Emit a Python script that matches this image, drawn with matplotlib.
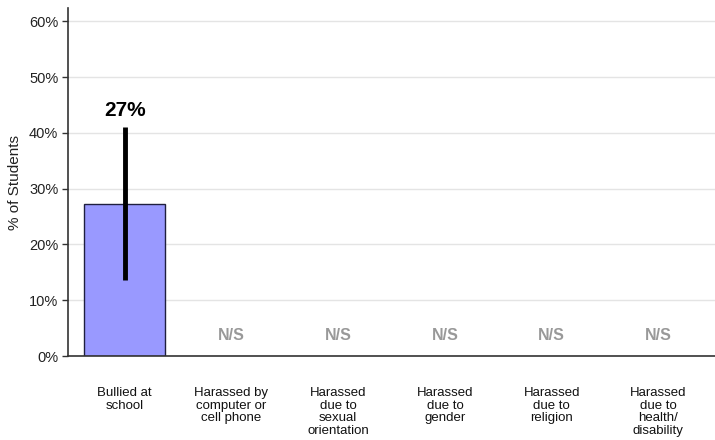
import matplotlib.pyplot as plt
import matplotlib.transforms as mtransforms
import numpy as np

plt.rcParams["font.family"] = ["Liberation Sans", "DejaVu Sans"]

# ── Data ──────────────────────────────────────────────────────────────────────
categories = [
    "Bullied at\nschool",
    "Harassed by\ncomputer or\ncell phone",
    "Harassed\ndue to\nsexual\norientation",
    "Harassed\ndue to\ngender",
    "Harassed\ndue to\nreligion",
    "Harassed\ndue to\nhealth/\ndisability",
]
values = [27.3, None, None, None, None, None]
err_low = [13.6, None, None, None, None, None]
err_high = [41.0, None, None, None, None, None]
value_labels = ["27%", "N/S", "N/S", "N/S", "N/S", "N/S"]
y_ticks = [0, 10, 20, 30, 40, 50, 60]

# ── Figure ────────────────────────────────────────────────────────────────────
fig = plt.figure(figsize=(7.15, 4.4), dpi=100)
ax = fig.add_axes([68 / 715, 84 / 440, 647 / 715, 348 / 440])

x = np.arange(len(categories))
for i, v in enumerate(values):
    if v is None:
        ax.text(x[i], 3.6, value_labels[i], ha="center", va="center",
                fontsize=11.5, fontweight="bold", color="#999999")
        continue
    ax.bar(x[i], v, width=0.76, color="#9999ff", edgecolor="#1f1f3f",
           linewidth=1.0, zorder=2)
    ax.plot([x[i], x[i]], [err_low[i], err_high[i]], color="black",
            linewidth=3.5, solid_capstyle="butt", zorder=3)
    ax.text(x[i], err_high[i] + 1.4, value_labels[i], ha="center",
            va="bottom", fontsize=15, fontweight="bold", color="black")

ax.set_xlim(-0.53, len(categories) - 0.47)
ax.set_ylim(0, 62.4)
ax.set_yticks(y_ticks)
ax.set_yticklabels([f"{t}%" for t in y_ticks], fontsize=10.5, color="#222222")
ax.set_xticks([])
ax.grid(axis="y", color="#e4e4e4", linewidth=1, zorder=0)
ax.set_axisbelow(True)

for side in ("top", "right"):
    ax.spines[side].set_visible(False)
for side in ("left", "bottom"):
    ax.spines[side].set_color("#333333")
    ax.spines[side].set_linewidth(1.2)
ax.tick_params(axis="y", length=4, width=1, color="#333333", pad=3)

ax.set_ylabel("% of Students", fontsize=11, color="#222222", labelpad=5)

trans = mtransforms.blended_transform_factory(ax.transData, ax.transAxes)
for i, cat in enumerate(categories):
    ax.text(x[i], -31 / 348, cat, transform=trans, ha="center", va="top",
            fontsize=9.5, linespacing=1.08, color="#111111")

fig.savefig("out.png", dpi=100)
